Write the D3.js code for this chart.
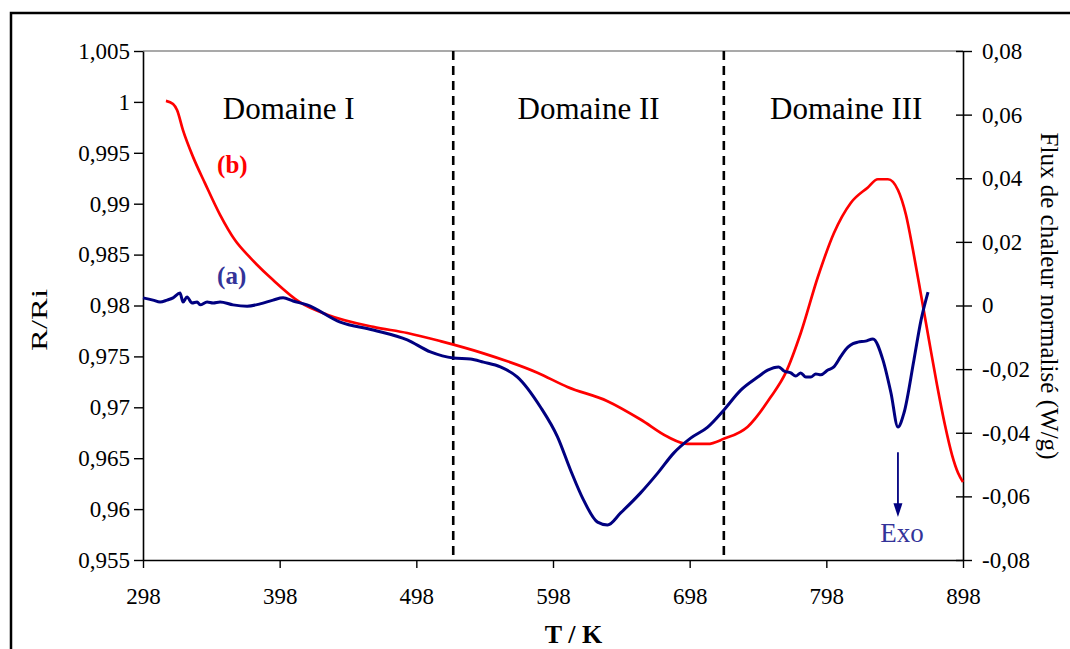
<!DOCTYPE html>
<html><head><meta charset="utf-8">
<script src="https://cdn.jsdelivr.net/npm/d3@7"></script>
<style>
html,body{margin:0;padding:0;background:#fff;}
svg{display:block;}
text{font-family:"Liberation Serif","Times New Roman",serif;}
</style></head>
<body>
<svg id="chart" width="1070" height="649"></svg>
<script>
// ---- Data ----
const xTicks = [298, 398, 498, 598, 698, 798, 898];
const leftTicks = [1.005, 1, 0.995, 0.99, 0.985, 0.98, 0.975, 0.97, 0.965, 0.96, 0.955];
const leftTickLabels = ["1,005", "1", "0,995", "0,99", "0,985", "0,98", "0,975", "0,97", "0,965", "0,96", "0,955"];
const rightTicks = [0.08, 0.06, 0.04, 0.02, 0, -0.02, -0.04, -0.06, -0.08];
const rightTickLabels = ["0,08", "0,06", "0,04", "0,02", "0", "-0,02", "-0,04", "-0,06", "-0,08"];

// (b) R/Ri curve (left axis)
const curveB_T = [314.8, 320.0, 322.9, 327.3, 334.6, 343.4, 354.4, 365.4, 376.4, 393.2, 413.0, 432.8, 466.5, 491.4, 515.6, 547.1, 586.6, 608.6, 637.9, 662.1, 681.9, 696.5, 711.2, 722.9, 740.5, 757.3, 768.3, 779.3, 791.8, 803.5, 816.0, 828.4, 835.7, 843.1, 850.4, 856.3, 861.4, 867.3, 873.1, 879.0, 884.8, 890.0, 894.4, 898.0];
const curveB_R = [1.0001, 0.9998, 0.9992, 0.9972, 0.9946, 0.9920, 0.9889, 0.9864, 0.9847, 0.9825, 0.9803, 0.9791, 0.9779, 0.9773, 0.9765, 0.9753, 0.9734, 0.9720, 0.9706, 0.9688, 0.9671, 0.9664, 0.9664, 0.9669, 0.9681, 0.9710, 0.9734, 0.9773, 0.9828, 0.9871, 0.9901, 0.9916, 0.9924, 0.9924, 0.99135, 0.98889, 0.98545, 0.98103, 0.97661, 0.97219, 0.96826, 0.96531, 0.96355, 0.96266];

// (a) heat flux curve (right axis)
const curveA_T = [298.0, 305.3, 310.5, 315.6, 320.0, 325.1, 327.3, 330.2, 333.9, 337.6, 339.8, 344.9, 349.3, 354.4, 363.9, 374.2, 383.7, 393.2, 400.5, 407.8, 418.1, 442.3, 466.5, 491.4, 508.3, 525.1, 537.6, 547.1, 559.5, 572.0, 588.8, 601.3, 610.8, 620.3, 630.6, 637.9, 647.5, 662.1, 674.6, 686.3, 698.7, 711.2, 722.9, 735.4, 747.8, 755.1, 763.2, 767.0, 772.0, 775.6, 779.3, 783.0, 786.6, 790.3, 794.0, 799.1, 803.5, 808.6, 813.8, 817.5, 821.1, 826.6, 832.1, 839.4, 845.3, 850.4, 854.8, 862.1, 867.3, 872.4];
const curveA_F = [0.0024, 0.0017, 0.0011, 0.0017, 0.0024, 0.0039, 0.0011, 0.0027, 0.0008, 0.0011, 0.0002, 0.0011, 0.0008, 0.0011, 0.0002, -0.0002, 0.0005, 0.0017, 0.0024, 0.0014, 0.0002, -0.0052, -0.0077, -0.0108, -0.0146, -0.0165, -0.0168, -0.0178, -0.0193, -0.0225, -0.0319, -0.0413, -0.0517, -0.0611, -0.0681, -0.0690, -0.0652, -0.0589, -0.0527, -0.0464, -0.0417, -0.0382, -0.0329, -0.0266, -0.0225, -0.0203, -0.0193, -0.0206, -0.0212, -0.0222, -0.0212, -0.0225, -0.0225, -0.0215, -0.0218, -0.0203, -0.0193, -0.0160, -0.0131, -0.0120, -0.0115, -0.0112, -0.0105, -0.0171, -0.0275, -0.0382, -0.0338, -0.0171, -0.0046, 0.0042];

const domainBounds = [525, 723];
const domainNames = ["Domaine I", "Domaine II", "Domaine III"];
const domainCenters = [404.6, 624.0, 812.6];

// ---- Chart ----
const svg = d3.select("#chart");
const L = 143, R = 963, T = 51, B = 560;
const x = d3.scaleLinear().domain([298, 898]).range([L, R]);
const yL = d3.scaleLinear().domain([0.955, 1.005]).range([B, T]);
const yR = d3.scaleLinear().domain([-0.08, 0.08]).range([B, T]);

// outer frame
svg.append("rect").attr("x", 11).attr("y", 13).attr("width", 1200).attr("height", 800)
  .attr("fill", "none").attr("stroke", "#000").attr("stroke-width", 2.5);

// top border of plot area (grey)
svg.append("line").attr("x1", L).attr("x2", R).attr("y1", T).attr("y2", T)
  .attr("stroke", "#8c8c8c").attr("stroke-width", 1.5);

const tickFont = 23;

// left axis
const gL = svg.append("g").attr("transform", `translate(${L},0)`)
  .call(d3.axisLeft(yL).tickValues(leftTicks).tickFormat((d, i) => leftTickLabels[i]).tickSize(9).tickSizeOuter(0).tickPadding(4));
// right axis (ticks crossing)
const gR = svg.append("g").attr("transform", `translate(${R},0)`)
  .call(d3.axisRight(yR).tickValues(rightTicks).tickFormat((d, i) => rightTickLabels[i]).tickSize(9).tickSizeOuter(0).tickPadding(10));
const gR2 = svg.append("g").attr("transform", `translate(${R},0)`)
  .call(d3.axisRight(yR).tickValues(rightTicks).tickFormat("").tickSize(-7).tickSizeOuter(0));
gR2.select(".domain").remove();
// bottom axis
const gB = svg.append("g").attr("transform", `translate(0,${B})`)
  .call(d3.axisBottom(x).tickValues(xTicks).tickFormat(d3.format("d")).tickSize(8).tickSizeOuter(0).tickPadding(20));

[gL, gR, gR2, gB].forEach(g => {
  g.selectAll("path.domain").attr("stroke", "#000").attr("stroke-width", 1.6);
  g.selectAll(".tick line").attr("stroke", "#000").attr("stroke-width", 1.4);
  g.selectAll(".tick text").attr("fill", "#000").style("font-size", tickFont + "px")
    .style("font-family", '"Liberation Serif","Times New Roman",serif');
});

// dashed domain separators
svg.append("g").selectAll("line").data(domainBounds).join("line")
  .attr("x1", d => x(d)).attr("x2", d => x(d)).attr("y1", T).attr("y2", B)
  .attr("stroke", "#000").attr("stroke-width", 2.6).attr("stroke-dasharray", "9,6");

// curves
const dataB = curveB_T.map((t, i) => [t, curveB_R[i]]);
const dataA = curveA_T.map((t, i) => [t, curveA_F[i]]);

svg.append("path").datum(dataB)
  .attr("d", d3.line().x(d => x(d[0])).y(d => yL(d[1])).curve(d3.curveMonotoneX))
  .attr("fill", "none").attr("stroke", "#ff0000").attr("stroke-width", 2.7).attr("stroke-linejoin", "round");

svg.append("path").datum(dataA)
  .attr("d", d3.line().x(d => x(d[0])).y(d => yR(d[1])).curve(d3.curveMonotoneX))
  .attr("fill", "none").attr("stroke", "#000080").attr("stroke-width", 3).attr("stroke-linejoin", "round");

// domain labels
svg.append("g").selectAll("text").data(domainNames).join("text")
  .attr("x", (d, i) => x(domainCenters[i])).attr("y", 119)
  .attr("text-anchor", "middle").style("font-size", "31px").attr("fill", "#000")
  .text(d => d);

// curve labels
svg.append("text").attr("x", x(352.2)).attr("y", 173)
  .style("font-size", "25px").style("font-weight", "bold").attr("fill", "#ff0000").text("(b)");
svg.append("text").attr("x", x(352.2)).attr("y", 284)
  .style("font-size", "25px").style("font-weight", "bold").attr("fill", "#333399").text("(a)");

// Exo arrow
const exoT = 850.4;
svg.append("line").attr("x1", x(exoT)).attr("x2", x(exoT))
  .attr("y1", yR(-0.0461)).attr("y2", yR(-0.0625))
  .attr("stroke", "#000080").attr("stroke-width", 1.8);
svg.append("path")
  .attr("d", `M${x(exoT) - 4.5},${yR(-0.0622)} L${x(exoT) + 4.5},${yR(-0.0622)} L${x(exoT)},${yR(-0.0665)} Z`)
  .attr("fill", "#000080");
svg.append("text").attr("x", x(exoT) + 4).attr("y", 542).attr("text-anchor", "middle")
  .style("font-size", "27px").attr("fill", "#333399").text("Exo");

// axis titles
svg.append("text").attr("transform", "translate(47,320) rotate(-90)")
  .attr("text-anchor", "middle").style("font-size", "24px").attr("fill", "#000")
  .attr("textLength", 62).attr("lengthAdjust", "spacingAndGlyphs").text("R/Ri");
svg.append("text").attr("transform", "translate(1041,296) rotate(90)")
  .attr("text-anchor", "middle").style("font-size", "25px").attr("fill", "#000")
  .attr("textLength", 327).attr("lengthAdjust", "spacingAndGlyphs").text("Flux de chaleur normalisé (W/g)");
svg.append("text").attr("x", 573.5).attr("y", 643)
  .attr("text-anchor", "middle").style("font-size", "26px").style("font-weight", "bold").attr("fill", "#000")
  .text("T / K");
</script>
</body></html>
